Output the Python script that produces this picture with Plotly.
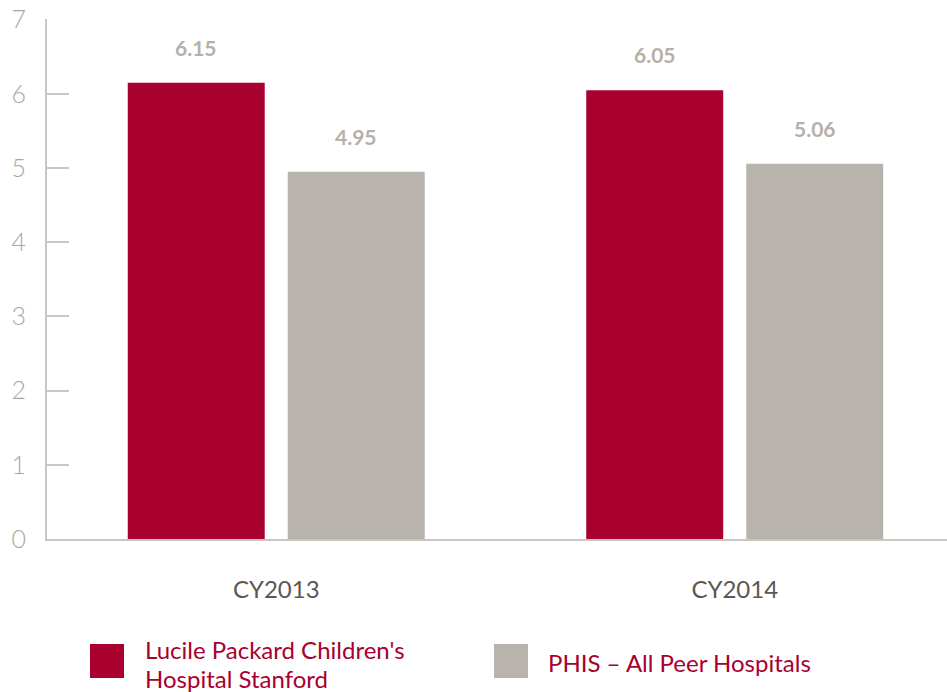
import plotly.graph_objects as go

categories = ["CY2013", "CY2014"]
lpch_values = [6.15, 6.05]
phis_values = [4.95, 5.06]
series_names = ["Lucile Packard Children's Hospital Stanford", "PHIS – All Peer Hospitals"]
legend_lines = [["Lucile Packard Children's", "Hospital Stanford"], ["PHIS – All Peer Hospitals"]]
y_ticks = [0, 1, 2, 3, 4, 5, 6, 7]

RED = "#a8002f"
GRAY = "#b8b4ad"
AXIS = "#c9c5bf"
FONT = "Lato"

OFF = 0
W, H = 947 - OFF, 692 - OFF
L, T, B = 47 - OFF, 19 - OFF, 692 - 539
PW, PH = W - L, H - T - B


def px_x(x):
    return (x - OFF - L) / PW


def px_y(y):
    return (H - B - (y - OFF)) / PH


fig = go.Figure()
fig.add_trace(go.Bar(x=categories, y=lpch_values, name=series_names[0],
                     marker=dict(color=RED, line=dict(width=0)), showlegend=False))
fig.add_trace(go.Bar(x=categories, y=phis_values, name=series_names[1],
                     marker=dict(color=GRAY, line=dict(width=0)), showlegend=False))

# value labels above bars
for i, c in enumerate(categories):
    for j, vals in enumerate([lpch_values, phis_values]):
        fig.add_annotation(x=c, y=vals[i], text=f"{vals[i]:.2f}", showarrow=False,
                           xref="x", yref="y", yanchor="bottom", yshift=21,
                           xshift=(-80 if j == 0 else 80),
                           font=dict(family=FONT, size=21, color="#b5b0a8", weight="bold"))

# custom legend
legend_items = [(legend_lines[0], RED, 90, 143, [649, 678]),
                (legend_lines[1], GRAY, 494, 546, [662])]
for lines, col, sx, tx, ys in legend_items:
    fig.add_shape(type="rect", xref="paper", yref="paper",
                  x0=px_x(sx), x1=px_x(sx + 34),
                  y0=px_y(678), y1=px_y(644),
                  fillcolor=col, line=dict(width=0))
    for line, yy in zip(lines, ys):
        fig.add_annotation(xref="paper", yref="paper", x=px_x(tx), y=px_y(yy),
                           xanchor="left", yanchor="middle", text=line, showarrow=False,
                           align="left", font=dict(family=FONT, size=24, color=RED))

fig.update_layout(
    width=W, height=H,
    margin=dict(l=L, r=0, t=T, b=B, autoexpand=False),
    paper_bgcolor="white", plot_bgcolor="white",
    barmode="group", bargap=0.302, bargroupgap=0.144,
    font=dict(family=FONT),
    xaxis=dict(range=[-0.5, 1.463], showline=True, linecolor=AXIS, linewidth=2,
               ticks="", showgrid=False, zeroline=False, ticklabelstandoff=28,
               automargin=False,
               tickfont=dict(family=FONT, size=24, color="#5e5651")),
    yaxis=dict(range=[0, 7.01], tickvals=y_ticks, showline=True, linecolor=AXIS, linewidth=2,
               ticks="inside", ticklen=22, tickcolor=AXIS, tickwidth=2,
               showgrid=False, zeroline=False, ticklabelstandoff=14, automargin=False,
               ticklabeloverflow="allow",
               tickfont=dict(family=FONT, size=25, color="#aba69f", weight=300)),
)

fig.write_html("out.html", config={"displayModeBar": False},
               post_script="document.body.style.margin='0px';")
